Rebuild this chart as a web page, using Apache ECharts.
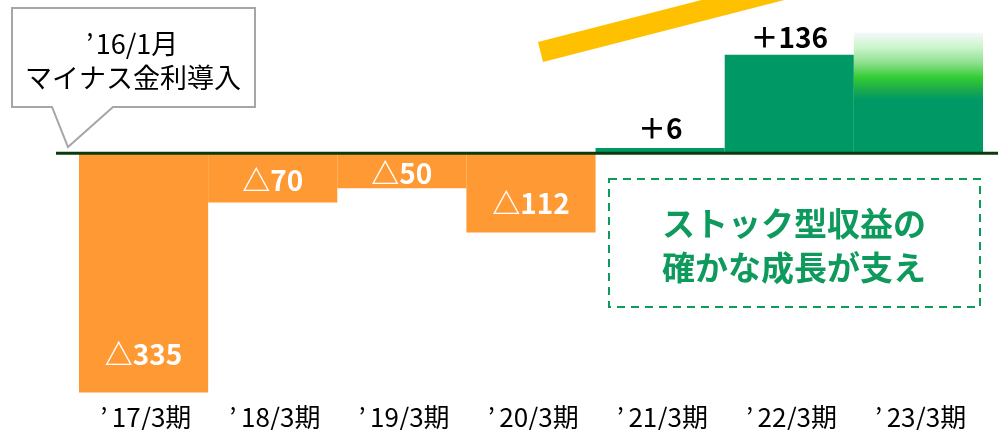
<!DOCTYPE html>
<html>
<head>
<meta charset="utf-8">
<script src="https://cdn.jsdelivr.net/npm/echarts@6/dist/echarts.min.js"></script>
<style>
  html, body { margin: 0; padding: 0; background: #ffffff; }
  #chart { width: 998px; height: 430px; }
</style>
</head>
<body>
<div id="chart"></div>
<script>
// Fiscal periods and the year-on-year change for each
const periods = ['’17/3期', '’18/3期', '’19/3期', '’20/3期', '’21/3期', '’22/3期', '’23/3期'];
const changes = [-335, -70, -50, -112, 6, 136, 167];
const changeLabels = ['△335', '△70', '△50', '△112', '＋6', '＋136', ''];

// Annotation texts
const calloutLines = ['’16/1月', 'マイナス金利導入'];
const noteLines = ['ストック型収益の', '確かな成長が支え'];

// Where each value label sits on its bar
const labelPlacement = [
  { position: 'inside', offset: [0, 82] },
  { position: 'inside', offset: [0, 3] },
  { position: 'inside', offset: [0, 3] },
  { position: 'inside', offset: [0, 11] },
  { position: 'top', distance: 6 },
  { position: 'top', distance: 4 },
  { position: 'top', distance: 4 }
];

const ORANGE = '#FF9933';
const GREEN = '#009966';
const NOTE_GREEN = '#0E9A5C';
const CJK_FONT = "'Noto Sans CJK JP', sans-serif";

// Splits the leading year mark off so it takes a full-width slot
function yearMarkRich(text) {
  return '{q|' + text.charAt(0) + '}{t|' + text.slice(1) + '}';
}

// Last period fades upward: solid green turning bright then pale
const fadeFill = new echarts.graphic.LinearGradient(0, 0, 0, 1, [
  { offset: 0, color: '#f4f8fb' },
  { offset: 0.12, color: '#cdf5cd' },
  { offset: 0.25, color: '#8fe08f' },
  { offset: 0.375, color: '#33cc33' },
  { offset: 0.475, color: '#1cab4a' },
  { offset: 0.56, color: GREEN },
  { offset: 1, color: GREEN }
]);

const barData = changes.map(function (v, i) {
  const isLast = i === changes.length - 1;
  const positive = v > 0;
  const place = labelPlacement[i];
  const label = {
    show: changeLabels[i] !== '',
    position: place.position,
    color: positive ? '#000000' : '#ffffff',
    formatter: function () { return changeLabels[i]; }
  };
  if (place.offset) label.offset = place.offset;
  if (place.distance !== undefined) label.distance = place.distance;
  return {
    value: v,
    itemStyle: { color: isLast ? fadeFill : (positive ? GREEN : ORANGE) },
    label: label
  };
});

const chart = echarts.init(document.getElementById('chart'), null, { renderer: 'canvas' });

chart.setOption({
  animation: false,
  backgroundColor: '#ffffff',
  grid: { left: 79, right: 15, top: 9, bottom: 32.2, containLabel: false },
  xAxis: {
    type: 'category',
    data: periods,
    axisLine: { show: false },
    axisTick: { show: false },
    axisLabel: {
      color: '#000000',
      margin: 8,
      formatter: yearMarkRich,
      rich: {
        q: { width: 16, fontSize: 26, fontFamily: CJK_FONT, color: '#000000' },
        t: { fontSize: 26, fontFamily: CJK_FONT, color: '#000000' }
      }
    }
  },
  yAxis: {
    type: 'value',
    min: -340,
    max: 200,
    show: false,
    splitLine: { show: false }
  },
  series: [{
    type: 'bar',
    data: barData,
    barCategoryGap: '0%',
    label: {
      show: true,
      fontSize: 28,
      fontWeight: 'bold',
      fontFamily: CJK_FONT
    },
    z: 2
  }]
});

// Zero line, callout bubble, trend arrow and note box
const zeroY = chart.convertToPixel({ yAxisIndex: 0 }, 0);

chart.setOption({
  graphic: [
    {
      type: 'line',
      shape: { x1: 56, y1: zeroY + 1, x2: 998, y2: zeroY + 1 },
      style: { stroke: '#0B3A0B', lineWidth: 3 },
      z: 10
    },
    {
      type: 'polygon',
      shape: { points: [[538, 42], [543, 62], [800, -4], [795, -24]] },
      style: { fill: '#FFC000' },
      z: 5
    },
    {
      type: 'polygon',
      shape: { points: [[12, 8], [255, 8], [255, 107], [113, 107], [68, 147], [52, 107], [12, 107]] },
      style: { fill: '#ffffff', stroke: '#A6A6A6', lineWidth: 2 },
      z: 5
    },
    {
      type: 'text',
      z: 6,
      style: {
        text: yearMarkRich(calloutLines[0]), x: 131, y: 44,
        align: 'center', verticalAlign: 'middle',
        rich: {
          q: { width: 12, fontSize: 27, fontFamily: CJK_FONT, fill: '#000000' },
          t: { fontSize: 27, fontFamily: CJK_FONT, fill: '#000000' }
        }
      }
    },
    {
      type: 'text',
      z: 6,
      style: {
        text: calloutLines[1], x: 133, y: 78,
        align: 'center', verticalAlign: 'middle',
        fill: '#000000', font: "27px " + CJK_FONT
      }
    },
    {
      type: 'rect',
      shape: { x: 609, y: 179, width: 371, height: 128 },
      style: { fill: 'none', stroke: NOTE_GREEN, lineWidth: 2, lineDash: [8, 6] },
      z: 5
    },
    {
      type: 'text',
      z: 6,
      style: {
        text: noteLines[0], x: 794, y: 223,
        align: 'center', verticalAlign: 'middle',
        fill: NOTE_GREEN, font: "bold 33px " + CJK_FONT
      }
    },
    {
      type: 'text',
      z: 6,
      style: {
        text: noteLines[1], x: 794, y: 267,
        align: 'center', verticalAlign: 'middle',
        fill: NOTE_GREEN, font: "bold 33px " + CJK_FONT
      }
    }
  ]
});
</script>
</body>
</html>
